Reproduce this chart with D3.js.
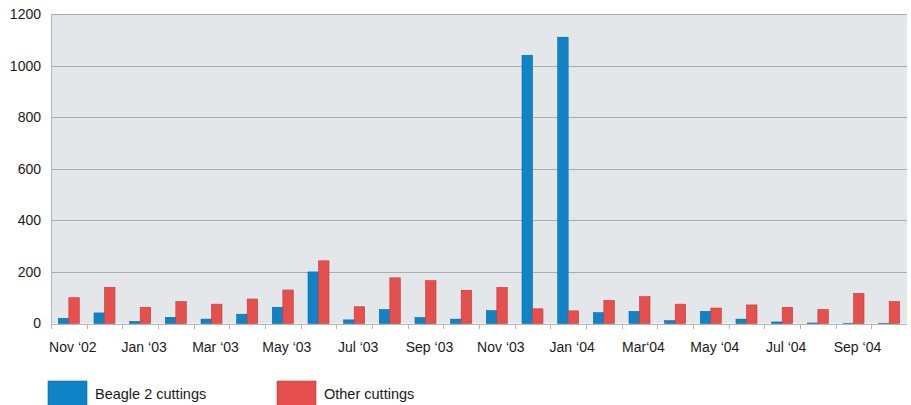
<!DOCTYPE html>
<html>
<head>
<meta charset="utf-8">
<script src="https://cdn.jsdelivr.net/npm/d3@7"></script>
<style>
  html, body { margin: 0; padding: 0; background: #ffffff; }
  svg { display: block; font-family: "Liberation Sans", Arial, Helvetica, sans-serif; }
</style>
</head>
<body>
<svg id="chart" width="911" height="405"></svg>
<script>
const months = ["Nov '02","Dec '02","Jan '03","Feb '03","Mar '03","Apr '03","May '03","Jun '03",
  "Jul '03","Aug '03","Sep '03","Oct '03","Nov '03","Dec '03","Jan '04","Feb '04",
  "Mar '04","Apr '04","May '04","Jun '04","Jul '04","Aug '04","Sep '04","Oct '04"];
const tickLabels = ["Nov \u201802","","Jan \u201803","","Mar \u201803","","May \u201803","",
  "Jul \u201803","","Sep \u201803","","Nov \u201803","","Jan \u201804","",
  "Mar\u201804","","May \u201804","","Jul \u201804","","Sep \u201804",""];
const beagle = [20,41,8,24,17,36,63,200,14,54,23,17,50,1040,1110,42,47,11,47,17,6,2,1,1];
const other  = [100,140,63,85,75,95,130,243,65,177,166,129,140,57,49,90,104,75,60,72,63,54,117,85];
const seriesNames = ["Beagle 2 cuttings","Other cuttings"];
const yTicks = [0,200,400,600,800,1000,1200];

(function () {
const colors = ["#0f83c5","#e5504e"];
const strokes = ["#0b6aa3","#c23b3a"];

const svg = d3.select("#chart");
const pLeft = 51, pRight = 907, pTop = 14, pBottom = 323.5;

const x0 = d3.scaleBand().domain(months).range([pLeft, pRight]).paddingInner(0).paddingOuter(0);
const x1 = d3.scaleBand().domain(seriesNames).range([0, 21]);
const pairOffset = (x0.bandwidth() - 21) / 2;
const y = d3.scaleLinear().domain([0, 1200]).range([pBottom, pTop]);

svg.append("rect").attr("x", pLeft).attr("y", pTop)
  .attr("width", pRight - pLeft).attr("height", pBottom - pTop)
  .attr("fill", "#e4e7ea");

svg.append("g").selectAll("line").data(yTicks.filter(d => d > 0)).join("line")
  .attr("x1", pLeft).attr("x2", pRight)
  .attr("y1", d => Math.round(y(d)) + 0.5).attr("y2", d => Math.round(y(d)) + 0.5)
  .attr("stroke", "#a9adb2").attr("stroke-width", 1);

svg.append("line").attr("x1", pLeft + 0.5).attr("x2", pLeft + 0.5)
  .attr("y1", pTop).attr("y2", pBottom).attr("stroke", "#b4b7ba");

const yAxis = d3.axisLeft(y).tickValues(yTicks).tickSize(0).tickPadding(10).tickFormat(d3.format("d"));
const gy = svg.append("g").attr("transform", `translate(${pLeft},0)`).call(yAxis);
gy.select(".domain").remove();
gy.selectAll("text").attr("font-size", 14).attr("fill", "#1a1a1a")
  .attr("font-family", "Liberation Sans, Arial, sans-serif");

const data = months.map((m, i) => ({ m, vals: [beagle[i], other[i]] }));
const groups = svg.append("g").selectAll("g").data(data).join("g")
  .attr("transform", d => `translate(${x0(d.m) + pairOffset},0)`);
groups.selectAll("rect").data(d => d.vals.map((v, k) => ({ v, k }))).join("rect")
  .attr("x", d => x1(seriesNames[d.k]))
  .attr("width", x1.bandwidth())
  .attr("y", d => y(d.v))
  .attr("height", d => pBottom - y(d.v))
  .attr("fill", d => colors[d.k])
  .attr("stroke", d => strokes[d.k]).attr("stroke-width", 0.6);

svg.append("line").attr("x1", pLeft).attr("x2", pRight)
  .attr("y1", Math.round(pBottom) + 0.5).attr("y2", Math.round(pBottom) + 0.5)
  .attr("stroke", "#b4b7ba").attr("stroke-width", 1.2);

const boundaries = months.map(m => x0(m));
svg.append("g").selectAll("line").data(boundaries).join("line")
  .attr("x1", d => Math.round(d) + 0.5).attr("x2", d => Math.round(d) + 0.5)
  .attr("y1", Math.round(pBottom)).attr("y2", Math.round(pBottom) + 5)
  .attr("stroke", "#b4b7ba");

svg.append("g").selectAll("text").data(months.map((m, i) => ({ m, label: tickLabels[i] })).filter(d => d.label))
  .join("text")
  .attr("x", d => x0(d.m) + x0.bandwidth() / 2 + 4)
  .attr("y", 352)
  .attr("text-anchor", "middle")
  .attr("font-size", 14)
  .attr("fill", "#1a1a1a")
  .text(d => d.label);

const legendX = [48, 277];
const lg = svg.append("g").selectAll("g").data(seriesNames).join("g")
  .attr("transform", (d, i) => `translate(${legendX[i]},381)`);
lg.append("rect").attr("width", 39).attr("height", 30)
  .attr("fill", (d, i) => colors[i]).attr("stroke", (d, i) => strokes[i]).attr("stroke-width", 0.6);
lg.append("text").attr("x", 47).attr("y", 17.5)
  .attr("font-size", 14.5).attr("fill", "#1a1a1a").text(d => d);
})();
</script>
</body>
</html>
